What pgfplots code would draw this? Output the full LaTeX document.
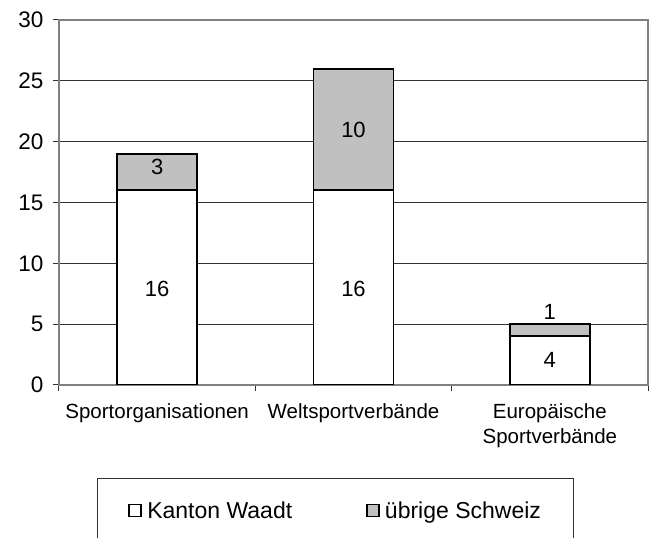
\documentclass[border=0pt]{standalone}
\usepackage{fontspec}
\setmainfont{Liberation Sans}
\usepackage{pgfplots}
\pgfplotsset{compat=1.18}
\definecolor{barGray}{HTML}{C0C0C0}
\definecolor{axGray}{HTML}{808080}
\begin{document}
\begin{tikzpicture}
\begin{axis}[
  at={(0pt,0pt)}, anchor=south west,
  scale only axis, width=589pt, height=365pt,
  ybar stacked, bar width=80pt,
  xmin=-0.5, xmax=2.5, ymin=0, ymax=30,
  xtick={-0.5,0.5,1.5,2.5}, xticklabels={,,,},
  extra x ticks={0,1,2},
  extra x tick labels={Sportorganisationen, Weltsportverbände, {Europäische\\Sportverbände}},
  extra x tick style={major tick length=0pt, xticklabel style={align=center, font=\fontsize{20.5}{25}\selectfont, yshift=-15pt}},
  ytick={0,5,...,30},
  yticklabel style={font=\fontsize{22.5}{26}\selectfont, xshift=-6pt},
  /pgf/number format/assume math mode=true,
  tick pos=left,
  tick align=outside, major tick length=6pt,
  tick style={black!80, line width=1pt},
  ymajorgrids, major grid style={black!80, line width=1pt},
  axis line style={axGray, line width=2.2pt},
  legend style={at={(0.0645,-0.2548)}, anchor=north west, draw=black!80, line width=1pt,
    inner xsep=31pt, inner ysep=21pt, font=\fontsize{23}{27}\selectfont,
    /tikz/every even column/.append style={column sep=72pt}},
  legend columns=2,
  legend image code/.code={\draw[#1, line width=1.8pt] (0pt,-6pt) rectangle (12pt,6pt); \path (15pt,0pt);},
]
\addplot[fill=white, draw=black, line width=1.8pt] coordinates {(0,16) (1,16) (2,4)};
\addplot[fill=barGray, draw=black, line width=1.8pt] coordinates {(0,3) (1,10) (2,1)};
\legend{Kanton Waadt, übrige Schweiz}
\end{axis}
\begin{axis}[
  at={(0pt,0pt)}, anchor=south west,
  scale only axis, width=589pt, height=365pt,
  xmin=-0.5, xmax=2.5, ymin=0, ymax=30, hide axis,
]
\addplot[draw=none, mark=none, nodes near coords, point meta=explicit symbolic,
  every node near coord/.style={anchor=center, font=\fontsize{22}{26}\selectfont}]
  table[meta=lab] {
x y lab
0 7.9 16
0 17.9 3
1 7.9 16
1 21 10
2 2.05 4
2 6.0 1
};
\end{axis}
\pgfresetboundingbox
\useasboundingbox (-59pt,-153pt) rectangle (590pt,385pt);
\end{tikzpicture}
\end{document}
